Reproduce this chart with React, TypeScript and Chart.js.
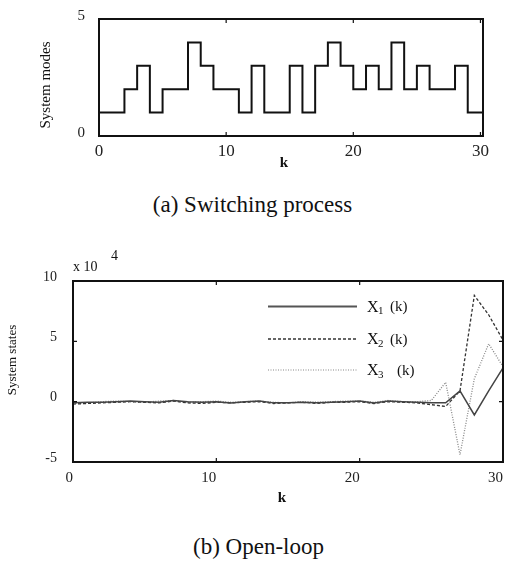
import React, { useEffect, useRef } from "react";
import { Chart, registerables } from "chart.js";
Chart.register(...registerables);

// ---- (a) switching process ----
const stepK = [0, 1, 2, 3, 4, 5, 6, 7, 8, 9, 10, 11, 12, 13, 14, 15, 16, 17, 18, 19, 20, 21, 22, 23, 24, 25, 26, 27, 28, 29, 30, 31];
const modes = [1, 1, 2, 3, 1, 2, 2, 4, 3, 2, 2, 1, 3, 1, 1, 3, 1, 3, 4, 3, 2, 3, 2, 4, 2, 3, 2, 2, 3, 1, 1, 1];
const modeTicks = [0, 5];

// ---- (b) open-loop states (x 10^4) ----
const kVals = [0, 1, 2, 3, 4, 5, 6, 7, 8, 9, 10, 11, 12, 13, 14, 15, 16, 17, 18, 19, 20, 21, 22, 23, 24, 25, 26, 27, 28, 29, 30];
const x1 = [-0.1, -0.05, -0.05, 0.0, 0.05, 0.0, -0.05, 0.1, 0.0, -0.05, 0.0, -0.1, 0.0, 0.05, -0.1, -0.1, -0.05, -0.1, -0.05, 0.0, 0.05, -0.1, 0.05, 0.0, -0.05, -0.1, -0.1, 0.9, -1.1, 0.9, 2.8];
const x2 = [-0.2, -0.15, -0.1, -0.05, 0.0, -0.05, -0.1, 0.05, -0.1, -0.15, -0.05, -0.1, -0.05, 0.0, -0.15, -0.1, -0.05, -0.15, -0.05, -0.05, 0.0, -0.15, 0.0, -0.05, -0.1, -0.25, -0.4, 0.9, 8.8, 7.2, 5.1];
const x3 = [-0.15, -0.1, 0.0, 0.05, 0.0, -0.05, 0.05, 0.1, -0.05, 0.0, 0.05, -0.05, 0.0, 0.05, -0.05, -0.1, 0.0, -0.05, 0.0, 0.05, 0.05, -0.05, 0.1, 0.0, 0.0, 0.1, 1.6, -4.4, 1.9, 4.8, 2.9];
const seriesNames = ["1", "2", "3"];

const SERIF = "'Liberation Serif', 'DejaVu Serif', serif";

function boxPlugin(opts: { xTitle: string; xTitlePos: [number, number]; yTitle: string; yTitlePos: [number, number]; yTitleSize: number }) {
  return {
    id: "boxAndTitles",
    afterDatasetsDraw(chart: any) {
      const { ctx, chartArea: a, scales } = chart;
      ctx.save();
      ctx.strokeStyle = "#111";
      ctx.lineWidth = 2;
      ctx.strokeRect(a.left, a.top, a.right - a.left, a.bottom - a.top);
      ctx.lineWidth = 1.2;
      const L = 4;
      scales.x.ticks.forEach((t: any) => {
        const px = scales.x.getPixelForValue(t.value);
        if (px - a.left < 2 || a.right - px < 2) return;
        ctx.beginPath();
        ctx.moveTo(px, a.top); ctx.lineTo(px, a.top + L);
        ctx.moveTo(px, a.bottom); ctx.lineTo(px, a.bottom - L);
        ctx.stroke();
      });
      scales.y.ticks.forEach((t: any) => {
        const py = scales.y.getPixelForValue(t.value);
        if (py - a.top < 2 || a.bottom - py < 2) return;
        ctx.beginPath();
        ctx.moveTo(a.left, py); ctx.lineTo(a.left + L, py);
        ctx.moveTo(a.right, py); ctx.lineTo(a.right - L, py);
        ctx.stroke();
      });
      ctx.fillStyle = "#111";
      ctx.font = `bold 15px ${SERIF}`;
      ctx.textAlign = "center";
      ctx.textBaseline = "middle";
      ctx.fillText(opts.xTitle, opts.xTitlePos[0], opts.xTitlePos[1]);
      ctx.translate(opts.yTitlePos[0], opts.yTitlePos[1]);
      ctx.rotate(-Math.PI / 2);
      ctx.font = `${opts.yTitleSize}px ${SERIF}`;
      ctx.fillText(opts.yTitle, 0, 0);
      ctx.restore();
    },
  };
}

const legendPlugin = {
  id: "customLegend",
  afterDraw(chart: any) {
    const { ctx } = chart;
    const rows = [
      { y: 56.5, dash: [] as number[], color: "#555", w: 2.2, tx: 390 },
      { y: 89, dash: [3, 2], color: "#333", w: 1.3, tx: 390 },
      { y: 120, dash: [1, 1.5], color: "#888", w: 1.2, tx: 397 },
    ];
    ctx.save();
    rows.forEach((r, i) => {
      ctx.beginPath();
      ctx.setLineDash(r.dash);
      ctx.strokeStyle = r.color;
      ctx.lineWidth = r.w;
      ctx.moveTo(268, r.y);
      ctx.lineTo(357, r.y);
      ctx.stroke();
      ctx.setLineDash([]);
      ctx.fillStyle = "#111";
      ctx.textAlign = "left";
      ctx.textBaseline = "middle";
      ctx.font = `16px ${SERIF}`;
      ctx.fillText("X", 367, r.y + 1);
      ctx.font = `11px ${SERIF}`;
      ctx.fillText(seriesNames[i], 378, r.y + 5);
      ctx.font = `15px ${SERIF}`;
      ctx.fillText("(k)", r.tx, r.y + 1);
    });
    // exponent label
    ctx.font = `14px ${SERIF}`;
    ctx.fillText("x 10", 73, 17);
    ctx.fillText("4", 111, 6);
    ctx.restore();
  },
};

export default function App() {
  const topRef = useRef<HTMLCanvasElement>(null);
  const botRef = useRef<HTMLCanvasElement>(null);

  useEffect(() => {
    const tickFont = (size: number) => ({ family: SERIF, size });
    const c1 = new Chart(topRef.current!, {
      type: "line",
      data: {
        datasets: [
          {
            data: stepK.map((k, i) => ({ x: k, y: modes[i] })),
            stepped: "before",
            borderColor: "#111",
            borderWidth: 2,
            pointRadius: 0,
            fill: false,
            clip: 1,
          } as any,
        ],
      },
      options: {
        animation: false,
        responsive: false,
        layout: { padding: { left: 34, right: 22, top: 19, bottom: 0 } },
        plugins: { legend: { display: false }, tooltip: { enabled: false } },
        scales: {
          x: {
            type: "linear",
            min: 0,
            max: 30.2,
            grid: { display: false, drawTicks: false },
            border: { display: false },
            ticks: { stepSize: 10, includeBounds: false, padding: 5, color: "#222", font: tickFont(17), maxRotation: 0 },
            afterFit: (s: any) => { s.height = 39; s.paddingLeft = 0; s.paddingRight = 0; },
          },
          y: {
            type: "linear",
            min: 0,
            max: 5,
            grid: { display: false, drawTicks: false },
            border: { display: false },
            ticks: {
              stepSize: 5,
              padding: 14,
              color: "#222",
              font: tickFont(15),
              labelOffset: -3,
              callback: (v: any) => (modeTicks.includes(v) ? String(v) : ""),
            },
            afterFit: (s: any) => { s.width = 65; s.paddingTop = 0; s.paddingBottom = 0; },
          },
        },
      } as any,
      plugins: [boxPlugin({ xTitle: "k", xTitlePos: [284, 163], yTitle: "System modes", yTitlePos: [46, 85], yTitleSize: 15 })],
    });

    const mk = (arr: number[]) => kVals.map((k, i) => ({ x: k, y: arr[i] }));
    const c2 = new Chart(botRef.current!, {
      type: "line",
      data: {
        datasets: [
          { data: mk(x1), borderColor: "#444", borderWidth: 1.5, pointRadius: 0, fill: false, tension: 0 },
          { data: mk(x2), borderColor: "#333", borderWidth: 1.3, borderDash: [3, 2], pointRadius: 0, fill: false, tension: 0 },
          { data: mk(x3), borderColor: "#888", borderWidth: 1.3, borderDash: [1, 1.5], pointRadius: 0, fill: false, tension: 0 },
        ],
      },
      options: {
        animation: false,
        responsive: false,
        layout: { padding: { left: 0, right: 2, top: 31, bottom: 0 } },
        plugins: { legend: { display: false }, tooltip: { enabled: false } },
        scales: {
          x: {
            type: "linear",
            min: 0,
            max: 30,
            grid: { display: false, drawTicks: false },
            border: { display: false },
            ticks: { stepSize: 10, align: "end", padding: 7, color: "#222", font: tickFont(15), maxRotation: 0 },
            afterFit: (s: any) => { s.height = 53; s.paddingLeft = 0; s.paddingRight = 0; },
          },
          y: {
            type: "linear",
            min: -5,
            max: 10,
            grid: { display: false, drawTicks: false },
            border: { display: false },
            ticks: { stepSize: 5, padding: 16, color: "#222", font: tickFont(14), labelOffset: -4 },
            afterFit: (s: any) => { s.width = 73; s.paddingTop = 0; s.paddingBottom = 0; },
          },
        },
      } as any,
      plugins: [
        boxPlugin({ xTitle: "k", xTitlePos: [282, 248], yTitle: "System states", yTitlePos: [13, 110], yTitleSize: 13 }),
        legendPlugin,
      ],
    });
    return () => { c1.destroy(); c2.destroy(); };
  }, []);

  const capStyle: React.CSSProperties = {
    position: "absolute",
    width: 505,
    textAlign: "center",
    fontFamily: SERIF,
    fontSize: 23,
    lineHeight: "23px",
    color: "#111",
  };

  return (
    <div style={{ position: "absolute", left: 0, top: 0, width: 505, height: 565, background: "#fff", overflow: "hidden" }}>
      <canvas ref={topRef} width={505} height={175} style={{ position: "absolute", left: 0, top: 0, display: "block" }} />
      <div style={{ ...capStyle, left: 0, top: 193 }}>(a) Switching process</div>
      <canvas ref={botRef} width={505} height={265} style={{ position: "absolute", left: 0, top: 250, display: "block" }} />
      <div style={{ ...capStyle, left: 6, top: 535 }}>(b) Open-loop</div>
    </div>
  );
}
